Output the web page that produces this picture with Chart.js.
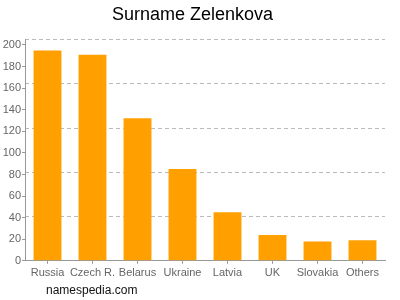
<!DOCTYPE html>
<html>
<head>
<meta charset="utf-8">
<script src="https://cdn.jsdelivr.net/npm/chart.js@4"></script>
<style>
  body { margin: 0; background: #fff; }
  #wrap { position: relative; width: 400px; height: 300px; }
  #footer { position: absolute; left: 46px; top: 283px; font: 12px "Liberation Sans", Arial, sans-serif; color: #111; }
</style>
</head>
<body>
<div id="wrap">
  <canvas id="grafico" width="400" height="300"></canvas>
  <div id="footer">namespedia.com</div>
</div>
<script>
// dados do gráfico
const paises = ['Russia', 'Czech R.', 'Belarus', 'Ukraine', 'Latvia', 'UK', 'Slovakia', 'Others'];
const quantidades = [195, 191, 132, 85, 45, 24, 18, 19];
const rotulosY = [0, 20, 40, 60, 80, 100, 120, 140, 160, 180, 200];
const eixoMax = 205;
const passoGrade = 41;

const fonte = { family: '"Liberation Sans", Arial, sans-serif', size: 11 };

const contexto = document.getElementById('grafico').getContext('2d');
const grafico = new Chart(contexto, {
    type: 'bar',
    data: {
        labels: paises,
        datasets: [{
            data: quantidades,
            backgroundColor: '#ffa000',
            barPercentage: 0.62,
            categoryPercentage: 1.0
        }]
    },
    options: {
        responsive: false,
        animation: false,
        layout: { padding: { left: 0, right: 15, top: 0, bottom: 17 } },
        plugins: {
            legend: { display: false },
            tooltip: { enabled: false },
            title: {
                display: true,
                text: 'Surname Zelenkova',
                color: '#000',
                font: { family: '"Liberation Sans", Arial, sans-serif', size: 18, weight: 'normal' },
                padding: { top: 4, bottom: 14 }
            }
        },
        scales: {
            x: {
                grid: { display: true, drawOnChartArea: false, drawTicks: true, tickLength: 3, color: '#999', offset: false },
                border: { display: true, color: '#999' },
                ticks: { color: '#666', font: fonte, padding: 3, maxRotation: 0, autoSkip: false }
            },
            y: {
                min: 0,
                max: eixoMax,
                afterBuildTicks: eixo => { eixo.ticks = rotulosY.map(v => ({ value: v })); },
                afterFit: eixo => { eixo.width = 25; },
                grid: { display: true, drawOnChartArea: false, drawTicks: true, tickLength: 3, color: '#999' },
                border: { display: true, color: '#999' },
                ticks: { color: '#666', font: fonte, padding: 1 }
            },
            grade: {
                type: 'linear',
                position: 'right',
                min: 0,
                max: eixoMax,
                afterFit: eixo => { eixo.width = 0; },
                grid: { color: '#bbb', drawTicks: false },
                border: { display: false, dash: [4, 3] },
                ticks: { display: false, stepSize: passoGrade }
            }
        }
    }
});
</script>
</body>
</html>
